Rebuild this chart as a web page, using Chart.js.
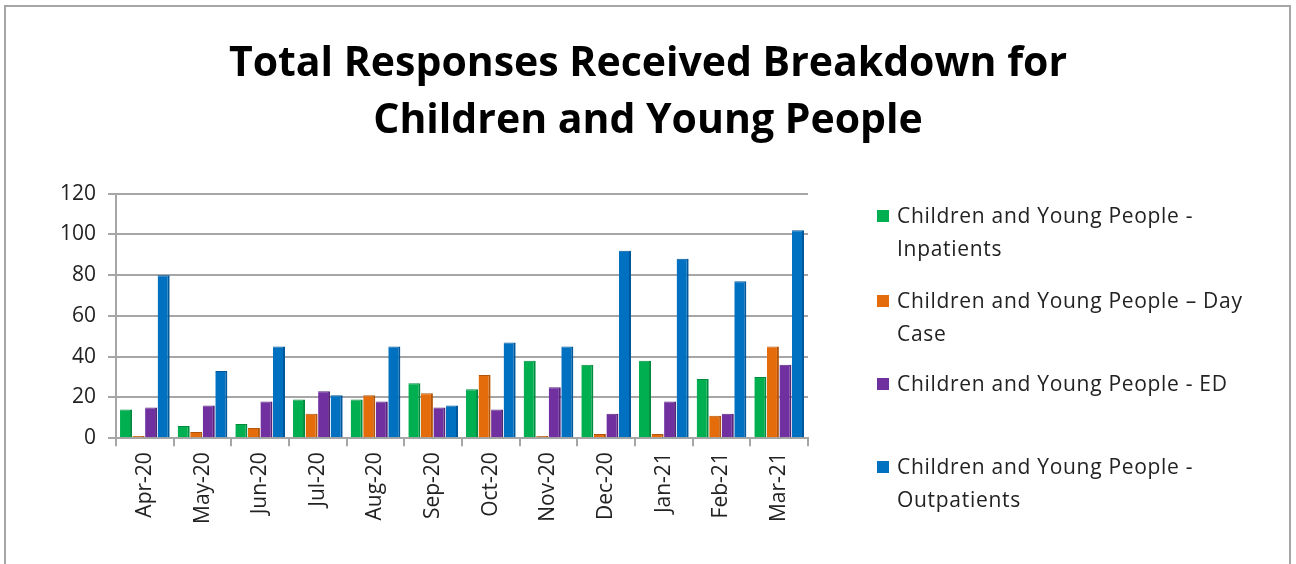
<!DOCTYPE html>
<html>
<head>
<meta charset="utf-8">
<script src="https://cdn.jsdelivr.net/npm/chart.js@4/dist/chart.umd.min.js"></script>
<style>
  html, body { margin: 0; padding: 0; background: #fff; }
  #wrap { position: relative; width: 1296px; height: 564px; overflow: hidden; }
  #frame { position: absolute; left: 4px; top: 5px; width: 1287px; height: 600px; border: 2px solid #a6a6a6; box-sizing: border-box; }
  #c { position: absolute; left: 0; top: 0; }
  #legend { position: absolute; left: 877px; top: 0; font-family: "Open Sans", Lato, sans-serif; font-size: 21px; letter-spacing: 0.7px; color: #222; }
  .item { position: absolute; left: 0; white-space: nowrap; line-height: 33px; }
  .sw { position: absolute; left: 0; top: 11px; width: 12px; height: 12px; }
  .txt { position: absolute; left: 20px; top: 0; }
</style>
</head>
<body>
<div id="wrap">
  <div id="frame"></div>
  <canvas id="c" width="1296" height="564"></canvas>
  <div id="legend"></div>
</div>
<script>
const categories = ["Apr-20","May-20","Jun-20","Jul-20","Aug-20","Sep-20","Oct-20","Nov-20","Dec-20","Jan-21","Feb-21","Mar-21"];
const inpatients  = [14, 6, 7, 19, 19, 27, 24, 38, 36, 38, 29, 30];
const dayCase     = [1, 3, 5, 12, 21, 22, 31, 1, 2, 2, 11, 45];
const ed          = [15, 16, 18, 23, 18, 15, 14, 25, 12, 18, 12, 36];
const outpatients = [80, 33, 45, 21, 45, 16, 47, 45, 92, 88, 77, 102];
const seriesNames = [
  ["Children and Young People -", "Inpatients"],
  ["Children and Young People \u2013 Day", "Case"],
  ["Children and Young People - ED"],
  ["Children and Young People -", "Outpatients"]
];
const yTicks = [0, 20, 40, 60, 80, 100, 120];
const titleLines = ["Total Responses Received Breakdown for", "Children and Young People"];

const colors = ["#00B050", "#E46C0A", "#7030A0", "#0070C0"];
const borders = ["#008a3e", "#b35508", "#55247a", "#00579a"];
const seriesData = [inpatients, dayCase, ed, outpatients];

const datasets = seriesData.map((d, i) => ({
  label: seriesNames[i].join(" "),
  data: d,
  backgroundColor: colors[i],
  borderColor: borders[i],
  borderWidth: {left: 0, top: 1, right: 2, bottom: 0},
  categoryPercentage: 0.87,
  barPercentage: 0.96
}));

new Chart(document.getElementById("c"), {
  type: "bar",
  data: { labels: categories, datasets },
  options: {
    responsive: false,
    animation: false,
    devicePixelRatio: 1,
    layout: { padding: { left: 48, top: 35, right: 48, bottom: 34 } },
    plugins: {
      legend: { display: false },
      tooltip: { enabled: false },
      title: {
        display: true,
        text: titleLines,
        color: "#000",
        font: { family: "'Open Sans', Lato, sans-serif", size: 41, weight: "bold", lineHeight: 1.41 },
        padding: { top: 0, bottom: 43 }
      }
    },
    scales: {
      x: {
        offset: true,
        grid: { display: true, drawOnChartArea: false, drawTicks: true, tickLength: 8, color: "#a6a6a6", lineWidth: 2, offset: true },
        border: { display: true, color: "#a6a6a6", width: 2 },
        ticks: {
          minRotation: 90, maxRotation: 90, autoSkip: false, padding: 6,
          color: "#222",
          font: { family: "'Open Sans', Lato, sans-serif", size: 21 }
        }
      },
      y: {
        min: 0, max: 120,
        afterBuildTicks: s => { s.ticks = yTicks.map(v => ({ value: v })); },
        grid: { color: "#a6a6a6", lineWidth: 2, tickLength: 8, drawTicks: true },
        border: { display: true, color: "#a6a6a6", width: 2 },
        ticks: {
          padding: 12,
          color: "#222",
          font: { family: "'Open Sans', Lato, sans-serif", size: 21 }
        }
      },
      y2: {
        position: "right",
        display: true,
        grid: { display: false },
        border: { display: false },
        ticks: { display: false },
        afterFit: s => { s.width = 440; }
      }
    }
  }
});

const leg = document.getElementById("legend");
const tops = [199, 284, 367, 450];
seriesNames.forEach((lines, i) => {
  const it = document.createElement("div");
  it.className = "item";
  it.style.top = tops[i] + "px";
  it.innerHTML = '<div class="sw" style="background:' + colors[i] + '"></div><div class="txt">' + lines.join("<br>") + '</div>';
  leg.appendChild(it);
});
</script>
</body>
</html>
